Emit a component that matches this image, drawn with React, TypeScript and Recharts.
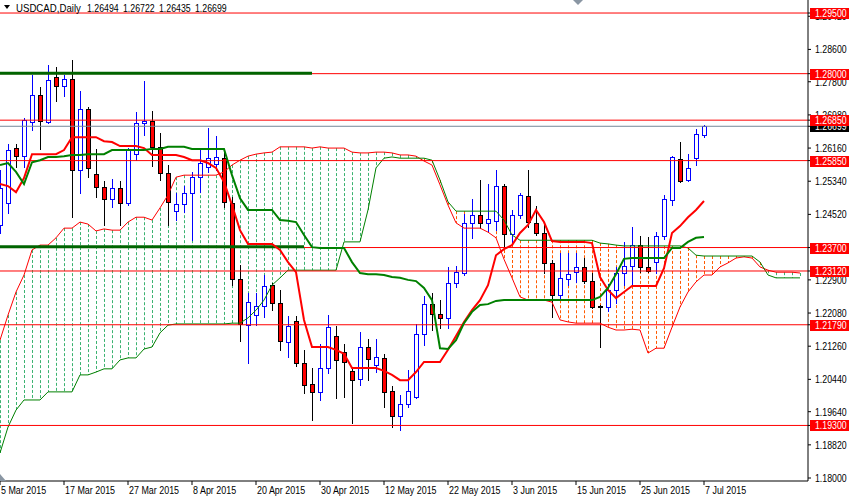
import React from 'react';
import { ComposedChart, Bar, Line, XAxis, YAxis, ReferenceLine } from 'recharts';

// daily USDCAD candles, 5 Mar 2015 .. 7 Jul 2015 (bar index 0..88)
const openP = [
  1.2426, 1.2480, 1.2616, 1.2596, 1.2680, 1.2747, 1.2680, 1.2792, 1.2769, 1.2787,
  1.2562, 1.2713, 1.2552, 1.2520, 1.2490, 1.2517, 1.2480, 1.2601, 1.2678, 1.2683,
  1.2619, 1.2554, 1.2460, 1.2478, 1.2505, 1.2544, 1.2569, 1.2577, 1.2591, 1.2480,
  1.2292, 1.2178, 1.2203, 1.2225, 1.2277, 1.2233, 1.2136, 1.2188, 1.2084, 1.2032,
  1.2013, 1.2072, 1.2151, 1.2112, 1.2065, 1.2045, 1.2124, 1.2079, 1.2097, 1.2015,
  1.1953, 1.1983, 1.2000, 1.2156, 1.2230, 1.2206, 1.2196, 1.2282, 1.2307, 1.2431,
  1.2450, 1.2431, 1.2436, 1.2522, 1.2403, 1.2450, 1.2497, 1.2431, 1.2406, 1.2332,
  1.2253, 1.2292, 1.2309, 1.2322, 1.2287, 1.2225, 1.2223, 1.2265, 1.2307, 1.2324,
  1.2376, 1.2322, 1.2334, 1.2398, 1.2488, 1.2589, 1.2537, 1.2591, 1.26494,
];
const highP = [
  1.2562, 1.2626, 1.2626, 1.2690, 1.2797, 1.2767, 1.2821, 1.2816, 1.2797, 1.2834,
  1.2757, 1.2718, 1.2614, 1.2535, 1.2539, 1.2535, 1.2616, 1.2705, 1.2782, 1.2708,
  1.2653, 1.2574, 1.2505, 1.2522, 1.2557, 1.2611, 1.2666, 1.2646, 1.2614, 1.2495,
  1.2327, 1.2257, 1.2257, 1.2302, 1.2282, 1.2265, 1.2201, 1.2201, 1.2117, 1.2072,
  1.2131, 1.2203, 1.2176, 1.2131, 1.2074, 1.2161, 1.2144, 1.2144, 1.2107, 1.2027,
  1.2005, 1.2067, 1.2181, 1.2250, 1.2257, 1.2240, 1.2322, 1.2324, 1.2453, 1.2490,
  1.2537, 1.2527, 1.2562, 1.2527, 1.2463, 1.2505, 1.2562, 1.2473, 1.2431, 1.2339,
  1.2356, 1.2356, 1.2356, 1.2344, 1.2307, 1.2228, 1.2280, 1.2322, 1.2384, 1.2421,
  1.2398, 1.2396, 1.2408, 1.2500, 1.2596, 1.2631, 1.2601, 1.2663, 1.26722,
];
const lowP = [
  1.2406, 1.2455, 1.2569, 1.2569, 1.2661, 1.2614, 1.2678, 1.2732, 1.2745, 1.2445,
  1.2505, 1.2544, 1.2495, 1.2426, 1.2470, 1.2426, 1.2475, 1.2586, 1.2648, 1.2572,
  1.2537, 1.2426, 1.2438, 1.2458, 1.2389, 1.2507, 1.2557, 1.2562, 1.2470, 1.2277,
  1.2139, 1.2084, 1.2178, 1.2198, 1.2215, 1.2117, 1.2099, 1.2077, 1.2010, 1.1943,
  1.1993, 1.2060, 1.1998, 1.2000, 1.1936, 1.2030, 1.2042, 1.2062, 1.1976, 1.1926,
  1.1919, 1.1976, 1.1998, 1.2129, 1.2166, 1.2171, 1.2171, 1.2272, 1.2302, 1.2394,
  1.2418, 1.2408, 1.2413, 1.2371, 1.2381, 1.2443, 1.2421, 1.2401, 1.2307, 1.2198,
  1.2240, 1.2277, 1.2285, 1.2282, 1.2220, 1.2124, 1.2213, 1.2233, 1.2277, 1.2277,
  1.2309, 1.2309, 1.2307, 1.2391, 1.2475, 1.2532, 1.2534, 1.2574, 1.26435,
];
const closeP = [
  1.2517, 1.2611, 1.2596, 1.2685, 1.2747, 1.2683, 1.2784, 1.2769, 1.2787, 1.2562,
  1.2713, 1.2567, 1.2520, 1.2490, 1.2517, 1.2480, 1.2611, 1.2678, 1.2683, 1.2619,
  1.2554, 1.2483, 1.2478, 1.2505, 1.2544, 1.2579, 1.2591, 1.2594, 1.2483, 1.2292,
  1.2181, 1.2235, 1.2225, 1.2275, 1.2233, 1.2139, 1.2176, 1.2084, 1.2030, 1.2013,
  1.2072, 1.2173, 1.2092, 1.2087, 1.2042, 1.2124, 1.2094, 1.2099, 1.2013, 1.1953,
  1.1983, 1.2015, 1.2156, 1.2230, 1.2206, 1.2196, 1.2282, 1.2309, 1.2431, 1.2450,
  1.2431, 1.2441, 1.2522, 1.2403, 1.2450, 1.2500, 1.2433, 1.2406, 1.2332, 1.2253,
  1.2295, 1.2304, 1.2322, 1.2287, 1.2223, 1.2223, 1.2265, 1.2307, 1.2324, 1.2376,
  1.2322, 1.2312, 1.2398, 1.2490, 1.2594, 1.2534, 1.2567, 1.2651, 1.26699,
];

// ichimoku lines
const tenkan = [
  1.2527, 1.2522, 1.2507, 1.2542, 1.2601, 1.2601, 1.2601, 1.2601, 1.2611, 1.2643,
  1.2643, 1.2643, 1.2643, 1.2633, 1.2631, 1.2621, 1.2621, 1.2621, 1.2616, 1.2599,
  1.2599, 1.2599, 1.2599, 1.2594, 1.2586, 1.2586, 1.2579, 1.2567, 1.2532, 1.2475,
  1.2413, 1.2379, 1.2379, 1.2379, 1.2379, 1.2364, 1.2334, 1.2309, 1.2191, 1.2124,
  1.2124, 1.2124, 1.2117, 1.2107, 1.2072, 1.2072, 1.2072, 1.2072, 1.2065, 1.2055,
  1.2042, 1.2042, 1.2062, 1.2087, 1.2087, 1.2087, 1.2117, 1.2151, 1.2186, 1.2215,
  1.2240, 1.2277, 1.2351, 1.2366, 1.2376, 1.2406, 1.2426, 1.2463, 1.2433, 1.2386,
  1.2384, 1.2384, 1.2384, 1.2384, 1.2381, 1.2297, 1.2265, 1.2245, 1.2260, 1.2275,
  1.2275, 1.2275, 1.2275, 1.2319, 1.2406, 1.2423, 1.2445, 1.2463, 1.2485,
];
const kijun = [
  1.2574, 1.2579, 1.2557, 1.2527, 1.2581, 1.2586, 1.2594, 1.2594, 1.2596, 1.2599,
  1.2599, 1.2601, 1.2601, 1.2601, 1.2611, 1.2611, 1.2611, 1.2611, 1.2611, 1.2614,
  1.2614, 1.2619, 1.2619, 1.2619, 1.2614, 1.2614, 1.2614, 1.2614, 1.2614, 1.2549,
  1.2492, 1.2463, 1.2463, 1.2463, 1.2463, 1.2438, 1.2436, 1.2433, 1.2401, 1.2371,
  1.2369, 1.2369, 1.2369, 1.2369, 1.2334, 1.2307, 1.2304, 1.2304, 1.2302, 1.2297,
  1.2295, 1.2290, 1.2287, 1.2270, 1.2240, 1.2121, 1.2119, 1.2141, 1.2183, 1.2211,
  1.2228, 1.2230, 1.2238, 1.2240, 1.2240, 1.2240, 1.2240, 1.2240, 1.2240, 1.2240,
  1.2240, 1.2240, 1.2240, 1.2240, 1.2240, 1.2248, 1.2270, 1.2304, 1.2342, 1.2344,
  1.2344, 1.2344, 1.2344, 1.2344, 1.2369, 1.2369, 1.2384, 1.2394, 1.2396,
];
// senkou spans, shifted forward (bar index 0..100)
const spanA = [
  1.2141, 1.2203, 1.2260, 1.2302, 1.2364, 1.2376, 1.2376, 1.2394, 1.2418, 1.2418,
  1.2433, 1.2428, 1.2411, 1.2416, 1.2413, 1.2413, 1.2433, 1.2445, 1.2445, 1.2438,
  1.2468, 1.2500, 1.2544, 1.2549, 1.2549, 1.2549, 1.2549, 1.2549, 1.2557, 1.2574,
  1.2586, 1.2596, 1.2601, 1.2604, 1.2606, 1.2619, 1.2619, 1.2619, 1.2619, 1.2616,
  1.2619, 1.2616, 1.2616, 1.2616, 1.2606, 1.2604, 1.2604, 1.2606, 1.2606, 1.2604,
  1.2599, 1.2599, 1.2596, 1.2584, 1.2574, 1.2525, 1.2475, 1.2431, 1.2418, 1.2418,
  1.2418, 1.2408, 1.2394, 1.2341, 1.2295, 1.2248, 1.2240, 1.2240, 1.2240, 1.2235,
  1.2191, 1.2186, 1.2183, 1.2183, 1.2183, 1.2183, 1.2173, 1.2166, 1.2166, 1.2168,
  1.2166, 1.2109, 1.2121, 1.2121, 1.2173, 1.2223, 1.2260, 1.2285, 1.2302, 1.2302,
  1.2322, 1.2332, 1.2344, 1.2347, 1.2344, 1.2322, 1.2314, 1.2309, 1.2309, 1.2309,
  1.2307,
];
const spanB = [
  1.1862, 1.1926, 1.1968, 1.1993, 1.1993, 1.1993, 1.2013, 1.2013, 1.2013, 1.2013,
  1.2055, 1.2055, 1.2062, 1.2070, 1.2070, 1.2092, 1.2097, 1.2097, 1.2119, 1.2124,
  1.2159, 1.2178, 1.2181, 1.2181, 1.2181, 1.2181, 1.2181, 1.2181, 1.2181, 1.2183,
  1.2183, 1.2196, 1.2215, 1.2240, 1.2277, 1.2295, 1.2314, 1.2314, 1.2314, 1.2314,
  1.2314, 1.2314, 1.2314, 1.2384, 1.2384, 1.2384, 1.2463, 1.2567, 1.2591, 1.2594,
  1.2591, 1.2591, 1.2591, 1.2591, 1.2586, 1.2537, 1.2483, 1.2460, 1.2460, 1.2460,
  1.2460, 1.2460, 1.2460, 1.2438, 1.2401, 1.2388, 1.2388, 1.2388, 1.2388, 1.2388,
  1.2388, 1.2388, 1.2388, 1.2388, 1.2388, 1.2381, 1.2379, 1.2376, 1.2374, 1.2374,
  1.2374, 1.2374, 1.2374, 1.2374, 1.2374, 1.2374, 1.2369, 1.2351, 1.2349, 1.2349,
  1.2349, 1.2349, 1.2349, 1.2349, 1.2349, 1.2334, 1.2302, 1.2295, 1.2295, 1.2295,
  1.2295,
];

const dateTickIdx = [0, 8, 16, 24, 32, 40, 48, 56, 64, 72, 80, 88];
const dateTickLabels = [
  '5 Mar 2015', '17 Mar 2015', '27 Mar 2015', '8 Apr 2015', '20 Apr 2015', '30 Apr 2015',
  '12 May 2015', '22 May 2015', '3 Jun 2015', '15 Jun 2015', '25 Jun 2015', '7 Jul 2015',
];
const priceTicks = [
  1.2942, 1.286, 1.278, 1.2698, 1.2616, 1.2534, 1.2452, 1.229, 1.2208, 1.2126, 1.2044, 1.1964, 1.1882, 1.18,
];
const levels = [1.295, 1.28, 1.2685, 1.2585, 1.237, 1.2312, 1.2179, 1.193];
const bidPrice = 1.26699;
const trendPrices = [1.2801, 1.2372];
const trendEndIdx = [39, 38];

const FONT = "'Liberation Sans', Arial, sans-serif";
const FS = 10.5;
const BULL = '#0000FF';
const BEAR = '#FF0000';
const CLOUD_UP = '#3CB371';
const CLOUD_DN = '#FF5A00';

const data = spanA.map((a, i) => ({
  i,
  o: i < openP.length ? openP[i] : null,
  h: i < highP.length ? highP[i] : null,
  l: i < lowP.length ? lowP[i] : null,
  c: i < closeP.length ? closeP[i] : null,
  t: i < tenkan.length ? tenkan[i] : null,
  k: i < kijun.length ? kijun[i] : null,
  a,
  b: spanB[i],
}));

const candleRange = (d: any) => (d.o == null ? null : [d.l, d.h]);
const cloudRange = (d: any) => [Math.min(d.a, d.b), Math.max(d.a, d.b)];

// terminal font is narrow; squeeze Liberation Sans horizontally
function NarrowText({ x, y, sx = 0.84, fill = '#000', children }: any) {
  return (
    <text transform={`translate(${x},${y}) scale(${sx},1)`} x={0} y={0}
      fontFamily={FONT} fontSize={FS} fill={fill} textAnchor="start">
      {children}
    </text>
  );
}

function Candle(props: any) {
  const { x, y, width, height, payload } = props;
  if (!payload || payload.o == null || !Number.isFinite(y) || !Number.isFinite(height)) return null;
  const top = Math.min(y, y + height);
  const bot = Math.max(y, y + height);
  const { o, h, l, c } = payload;
  // place open/close between the scaled high and low
  const toY = (v: number) => (h === l ? top : top + ((h - v) / (h - l)) * (bot - top));
  const cx = Math.round(x + width / 2);
  const up = c >= o;
  const bTop = Math.round(toY(Math.max(o, c)));
  const bBot = Math.round(toY(Math.min(o, c)));
  const wick = up ? BULL : '#000';
  return (
    <g>
      <line x1={cx + 0.5} x2={cx + 0.5} y1={Math.round(top)} y2={Math.round(bot) + 1} stroke={wick} />
      {bBot - bTop >= 1 ? (
        <rect x={cx - 1.5} y={bTop + 0.5} width={4} height={bBot - bTop}
          fill={up ? '#fff' : BEAR} stroke={up ? BULL : '#000'} />
      ) : (
        <line x1={cx - 2} x2={cx + 3} y1={bTop + 0.5} y2={bTop + 0.5} stroke={wick} />
      )}
    </g>
  );
}

function CloudHatch(props: any) {
  const { x, y, width, height, payload } = props;
  if (!payload || !Number.isFinite(y) || !Number.isFinite(height)) return null;
  const top = Math.min(y, y + height);
  const bot = Math.max(y, y + height);
  const cx = Math.round(x + width / 2) + 0.5;
  return (
    <line x1={cx} x2={cx} y1={top} y2={bot}
      stroke={payload.a >= payload.b ? CLOUD_UP : CLOUD_DN} strokeDasharray="3 2" />
  );
}

function DateTick(props: any) {
  const { x, y, payload } = props;
  const k = dateTickIdx.indexOf(payload.value);
  return <NarrowText x={x + 1} y={y + 9} sx={0.85}>{k >= 0 ? dateTickLabels[k] : ''}</NarrowText>;
}

function PriceTick(props: any) {
  const { x, y, payload } = props;
  const v = payload.value;
  const isLevel = levels.includes(v);
  const isBid = v === bidPrice;
  const txt = v.toFixed(5);
  if (isLevel || isBid) {
    return (
      <g>
        <rect x={x - 3} y={Math.round(y) - 5} width={39} height={11} fill={isBid ? '#000' : BEAR} />
        <NarrowText x={x + 2} y={y + 4} sx={0.835} fill="#fff">{txt}</NarrowText>
      </g>
    );
  }
  return <NarrowText x={x + 2} y={y + 4} sx={0.835}>{txt}</NarrowText>;
}

const yTicks = [...priceTicks, bidPrice, ...levels];
const last = openP.length - 1;
const lastOhlc = [openP[last], highP[last], lowP[last], closeP[last]];

export default function App() {
  return (
    <div style={{ position: 'relative', width: 850, height: 498, background: '#fff' }}>
      <style>{'body{margin:0}'}</style>
      <ComposedChart width={850} height={498} data={data} margin={{ top: 0, right: 0, bottom: 0, left: -4 }}>
        <XAxis dataKey="i" type="category" padding={{ left: 0, right: 4 }} ticks={dateTickIdx} interval={0}
          tick={<DateTick />} tickSize={4} tickMargin={0} height={17}
          axisLine={{ stroke: '#000' }} tickLine={{ stroke: '#000' }} />
        <XAxis xAxisId="h" dataKey="i" type="category" padding={{ left: 0, right: 4 }} hide />
        <YAxis orientation="right" type="number" domain={[1.17926, 1.29822]} allowDataOverflow
          ticks={yTicks} interval={0} width={42} tick={<PriceTick />} tickSize={3} tickMargin={2}
          axisLine={{ stroke: '#000' }} tickLine={{ stroke: '#000' }} />

        <Bar xAxisId="h" dataKey={cloudRange} shape={<CloudHatch />} isAnimationActive={false} />
        <Line dataKey="a" stroke="#FF0000" strokeWidth={1} dot={false} activeDot={false} isAnimationActive={false} />
        <Line dataKey="b" stroke="#008000" strokeWidth={1} dot={false} activeDot={false} isAnimationActive={false} />

        <ReferenceLine y={bidPrice} stroke="#778899" strokeWidth={1} />
        {levels.map((lv) => (
          <ReferenceLine key={lv} y={lv} stroke="#FF0000" strokeWidth={1} />
        ))}
        {trendPrices.map((p, n) => (
          <ReferenceLine key={'tr' + n} segment={[{ x: 0, y: p }, { x: trendEndIdx[n], y: p }]}
            stroke="#006400" strokeWidth={3} />
        ))}

        <Bar dataKey={candleRange} shape={<Candle />} isAnimationActive={false} />
        <Line dataKey="t" stroke="#FF0000" strokeWidth={2} dot={false} activeDot={false} isAnimationActive={false} />
        <Line dataKey="k" stroke="#008000" strokeWidth={2} dot={false} activeDot={false} isAnimationActive={false} />
      </ComposedChart>

      <svg width={850} height={498} style={{ position: 'absolute', left: 0, top: 0, pointerEvents: 'none' }}>
        <polygon points="4,5 10,5 7,9" fill="#000" />
        <NarrowText x={16} y={11.5} sx={0.92}>USDCAD,Daily</NarrowText>
        {lastOhlc.map((v, n) => (
          <NarrowText key={n} x={87 + n * 36} y={11.5} sx={0.835}>{v.toFixed(5)}</NarrowText>
        ))}
        <polygon points="573,0 583,0 578,5" fill="#8A96A3" />
        <polygon points="0,474 6,481 0,481" fill="#8A96A3" />
      </svg>
    </div>
  );
}
